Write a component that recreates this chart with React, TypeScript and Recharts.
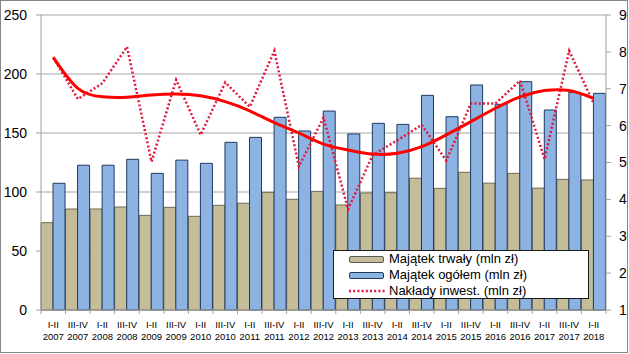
import React from 'react';
import { ComposedChart, Bar, Line, XAxis, YAxis, CartesianGrid } from 'recharts';

// Half-year periods and their years (two-line category labels)
const periods = [
  'I-II', 'III-IV', 'I-II', 'III-IV', 'I-II', 'III-IV', 'I-II', 'III-IV', 'I-II', 'III-IV', 'I-II', 'III-IV',
  'I-II', 'III-IV', 'I-II', 'III-IV', 'I-II', 'III-IV', 'I-II', 'III-IV', 'I-II', 'III-IV', 'I-II',
];
const years = [
  '2007', '2007', '2008', '2008', '2009', '2009', '2010', '2010', '2011', '2011', '2012', '2012',
  '2013', '2013', '2014', '2014', '2015', '2015', '2016', '2016', '2017', '2017', '2018',
];

// Left axis (mln zł)
const majatekTrwaly = [
  74, 85.6, 85.6, 87.3, 80.2, 87, 79.4, 88.7, 90.5, 99.7, 93.8, 100.5,
  89, 99.2, 99.4, 111.7, 103.1, 116.7, 107.5, 115.8, 103.3, 110.7, 110.2,
];
const majatekOgolem = [
  107.4, 122.7, 122.7, 127.7, 115.8, 127, 124.3, 142.1, 146.3, 163.3, 151.7, 168.6,
  149.2, 158.2, 157.3, 181.9, 163.8, 190.7, 174.3, 193.5, 169.5, 184.5, 183.6,
];

// Right axis (mln zł)
const nakladyInwest = [
  7.85, 6.72, 7.15, 8.14, 5.02, 7.24, 5.75, 7.17, 6.51, 8.03, 4.89, 6.22,
  3.73, 5.2, 5.6, 6.02, 5.05, 6.6, 6.6, 7.22, 5.09, 8.03, 6.6,
];
// trend line
const nakladyTrend = [
  7.85, 7.01, 6.78, 6.77, 6.83, 6.86, 6.81, 6.65, 6.4, 6.08, 5.8, 5.5,
  5.34, 5.23, 5.25, 5.43, 5.75, 6.11, 6.47, 6.78, 6.95, 6.95, 6.74,
];

const leftTicks = [0, 50, 100, 150, 200, 250];
const rightTicks = [1, 2, 3, 4, 5, 6, 7, 8, 9];

const data = periods.map((p, i) => ({
  name: `${p} ${years[i]}`,
  period: p,
  year: years[i],
  trwaly: majatekTrwaly[i],
  ogolem: majatekOgolem[i],
  naklady: nakladyInwest[i],
  trend: nakladyTrend[i],
}));

const FONT = '"Liberation Sans", Arial, sans-serif';
const AXIS = '#a0a0a0';

const CategoryTick = (props: any) => {
  const { x, y, payload, index } = props;
  const half = payload && payload.offset ? payload.offset : 12.28;
  const d = data[index] || { period: '', year: '' };
  const isLast = index === data.length - 1;
  return (
    <g>
      <line x1={x - half} x2={x - half} y1={y} y2={y + 4} stroke={AXIS} />
      {isLast && <line x1={x + half} x2={x + half} y1={y} y2={y + 4} stroke={AXIS} />}
      <text x={x} y={y} textAnchor="middle" fontSize={9.5} fill="#000" fontFamily={FONT}>
        <tspan x={x} dy={17.5}>{d.period}</tspan>
        <tspan x={x} dy={12.5}>{d.year}</tspan>
      </text>
    </g>
  );
};

export default function App() {
  return (
    <div style={{ position: 'absolute', left: 0, top: 0, width: 629, height: 354, background: '#fff', fontFamily: FONT }}>
      <ComposedChart
        width={629}
        height={354}
        data={data}
        margin={{ top: 15, right: 0, bottom: 0, left: 0 }}
        barCategoryGap={0}
        barGap={0}
      >
        <CartesianGrid yAxisId="left" vertical={false} stroke="#a6a6a6" />
        <XAxis
          dataKey="name"
          interval={0}
          height={44}
          tickSize={0}
          tickMargin={0}
          tickLine={false}
          axisLine={{ stroke: AXIS }}
          tick={<CategoryTick />}
        />
        <YAxis
          yAxisId="left"
          width={41}
          domain={[0, 250]}
          ticks={leftTicks}
          tickSize={5}
          tickMargin={9}
          axisLine={{ stroke: AXIS }}
          tickLine={{ stroke: AXIS }}
          tick={{ fill: '#000', fontSize: 14, fontFamily: FONT }}
        />
        <YAxis
          yAxisId="right"
          orientation="right"
          width={23}
          domain={[1, 9]}
          ticks={rightTicks}
          tickSize={5}
          tickMargin={8}
          axisLine={{ stroke: AXIS }}
          tickLine={{ stroke: AXIS }}
          tick={{ fill: '#000', fontSize: 14, fontFamily: FONT, textAnchor: 'start' }}
        />

        <Bar yAxisId="left" dataKey="trwaly" fill="#c4bd97" stroke="#6f6a55" strokeWidth={1} isAnimationActive={false} />
        <Bar yAxisId="left" dataKey="ogolem" fill="#8db3e2" stroke="#1f3a5f" strokeWidth={1} isAnimationActive={false} />

        <Line
          yAxisId="right"
          type="linear"
          dataKey="naklady"
          stroke="#e3173e"
          strokeWidth={2.5}
          strokeDasharray="2 2.2"
          dot={false}
          isAnimationActive={false}
        />
        <Line
          yAxisId="right"
          type="natural"
          dataKey="trend"
          stroke="#ff0000"
          strokeWidth={3}
          dot={false}
          isAnimationActive={false}
        />
      </ComposedChart>

      {/* legend */}
      <div
        style={{
          position: 'absolute', left: 333, top: 250, width: 256, height: 49, boxSizing: 'border-box',
          background: '#fff', border: '1px solid #1a1a1a', fontSize: 13, color: '#000',
        }}
      >
        {[
          { label: 'Majątek trwały (mln zł)', kind: 'bar', fill: '#c4bd97', stroke: '#595959' },
          { label: 'Majątek ogółem (mln zł)', kind: 'bar', fill: '#8db3e2', stroke: '#1f3a5f' },
          { label: 'Nakłady inwest. (mln zł)', kind: 'dots', fill: '#e3173e', stroke: '#e3173e' },
        ].map((it) => (
          <div key={it.label} style={{ position: 'relative', height: 16 }}>
            {it.kind === 'bar' ? (
              <div
                style={{
                  position: 'absolute', left: 15, top: 5, width: 35, height: 7, boxSizing: 'border-box',
                  background: it.fill, border: `1px solid ${it.stroke}`, borderRadius: 2,
                }}
              />
            ) : (
              <svg style={{ position: 'absolute', left: 15, top: 6 }} width={36} height={4}>
                <line x1={0} x2={36} y1={2} y2={2} stroke={it.stroke} strokeWidth={2.5} strokeDasharray="2 2.2" />
              </svg>
            )}
            <span style={{ position: 'absolute', left: 55, top: 0, lineHeight: '16px', whiteSpace: 'nowrap' }}>{it.label}</span>
          </div>
        ))}
      </div>

      {/* outer frame */}
      <div
        style={{
          position: 'absolute', left: 0, top: 0, width: 628, height: 353, boxSizing: 'border-box',
          border: '1px solid #868686', pointerEvents: 'none',
        }}
      />
    </div>
  );
}
